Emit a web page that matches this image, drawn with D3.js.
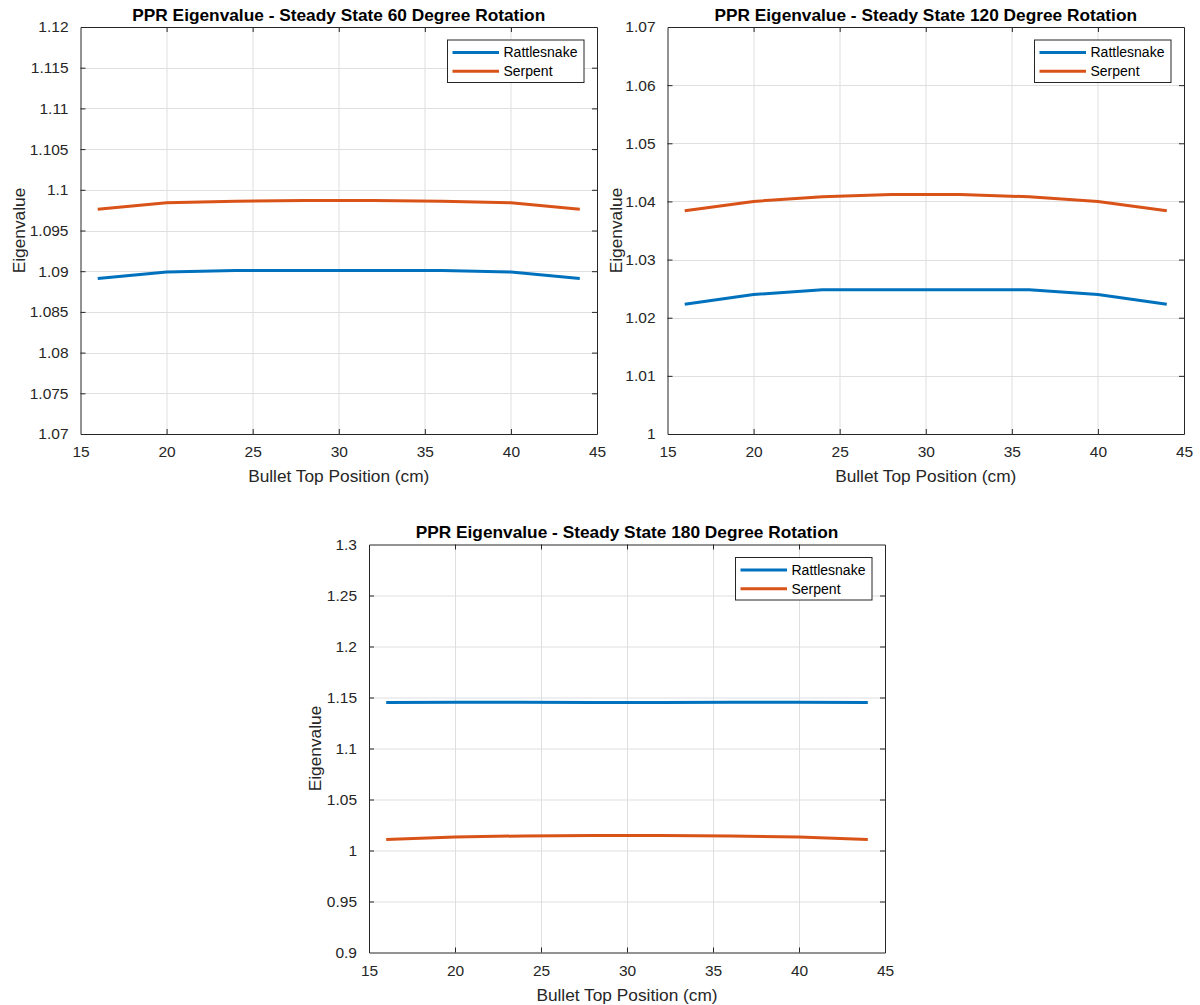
<!DOCTYPE html>
<html>
<head>
<meta charset="utf-8">
<script src="https://cdn.jsdelivr.net/npm/d3@7"></script>
<style>
  html, body { margin: 0; padding: 0; background: #fff; }
  svg { display: block; font-family: "Liberation Sans", Arial, Helvetica, sans-serif; }
</style>
</head>
<body>
<svg id="chart" width="1200" height="1005"></svg>
<script>
// Bullet top positions (cm)
const positions = [16, 20, 24, 28, 32, 36, 40, 44];

// Steady-state eigenvalues, 60 degree rotation
const rattlesnake60 = [1.0891, 1.0899, 1.0901, 1.0901, 1.0901, 1.0901, 1.0899, 1.0891];
const serpent60     = [1.0976, 1.0984, 1.0986, 1.0987, 1.0987, 1.0986, 1.0984, 1.0976];

// Steady-state eigenvalues, 120 degree rotation
const rattlesnake120 = [1.0223, 1.0240, 1.0248, 1.0248, 1.0248, 1.0248, 1.0240, 1.0223];
const serpent120     = [1.0384, 1.0400, 1.0408, 1.0412, 1.0412, 1.0408, 1.0400, 1.0384];

// Steady-state eigenvalues, 180 degree rotation
const rattlesnake180 = [1.1451, 1.1453, 1.1453, 1.1452, 1.1452, 1.1453, 1.1453, 1.1451];
const serpent180     = [1.0108, 1.0133, 1.0143, 1.0148, 1.0148, 1.0143, 1.0133, 1.0108];

const seriesNames = ["Rattlesnake", "Serpent"];
const seriesColors = ["#0072BD", "#D95319"];

const xTicks = [15, 20, 25, 30, 35, 40, 45];
const yTicks60  = [1.07, 1.075, 1.08, 1.085, 1.09, 1.095, 1.1, 1.105, 1.11, 1.115, 1.12];
const yTicks120 = [1, 1.01, 1.02, 1.03, 1.04, 1.05, 1.06, 1.07];
const yTicks180 = [0.9, 0.95, 1, 1.05, 1.1, 1.15, 1.2, 1.25, 1.3];

const titles = [
  "PPR Eigenvalue - Steady State 60 Degree Rotation",
  "PPR Eigenvalue - Steady State 120 Degree Rotation",
  "PPR Eigenvalue - Steady State 180 Degree Rotation"
];

const panels = [
  { title: titles[0], box: [80.5, 27, 516.5, 407], yTicks: yTicks60, yLabelGap: 56,
    series: [rattlesnake60, serpent60] },
  { title: titles[1], box: [667.5, 27, 516.5, 407], yTicks: yTicks120, yLabelGap: 46,
    series: [rattlesnake120, serpent120] },
  { title: titles[2], box: [369, 544.5, 516, 408], yTicks: yTicks180, yLabelGap: 48,
    series: [rattlesnake180, serpent180] }
];

const svg = d3.select("#chart");
const axisColor = "#262626";
const fmt = d => String(+d.toFixed(4));

panels.forEach(p => {
  const [left, top, w, h] = p.box;
  const g = svg.append("g").attr("transform", `translate(${left},${top})`);

  const x = d3.scaleLinear().domain([15, 45]).range([0, w]);
  const y = d3.scaleLinear().domain(d3.extent(p.yTicks)).range([h, 0]);

  g.append("rect").attr("width", w).attr("height", h).attr("fill", "#fff");

  // grid
  const grid = g.append("g").attr("stroke", "#dfdfdf").attr("stroke-width", 1);
  grid.selectAll(".gx").data(xTicks.slice(1, -1)).join("line")
    .attr("x1", d => Math.round(x(d)) + 0.5).attr("x2", d => Math.round(x(d)) + 0.5)
    .attr("y1", 0).attr("y2", h);
  grid.selectAll(".gy").data(p.yTicks.slice(1, -1)).join("line")
    .attr("y1", d => Math.round(y(d)) + 0.5).attr("y2", d => Math.round(y(d)) + 0.5)
    .attr("x1", 0).attr("x2", w);

  // box axes with inward ticks on all four sides
  const styleAxis = sel => {
    sel.select(".domain").attr("stroke", axisColor).attr("stroke-width", 1);
    sel.selectAll(".tick line").attr("stroke", axisColor);
    sel.selectAll(".tick text").attr("fill", axisColor)
      .style("font-size", "15.5px").style("font-family", "'Liberation Sans', Arial, sans-serif");
  };

  g.append("g").attr("transform", `translate(0,${h})`)
    .call(d3.axisBottom(x).tickValues(xTicks).tickSize(-5).tickPadding(12).tickSizeOuter(0).tickFormat(d3.format("d")))
    .call(styleAxis);
  g.append("g")
    .call(d3.axisTop(x).tickValues(xTicks).tickSize(-5).tickSizeOuter(0).tickFormat(""))
    .call(styleAxis);
  g.append("g")
    .call(d3.axisLeft(y).tickValues(p.yTicks).tickSize(-5).tickPadding(12).tickSizeOuter(0).tickFormat(fmt))
    .call(styleAxis);
  g.append("g").attr("transform", `translate(${w},0)`)
    .call(d3.axisRight(y).tickValues(p.yTicks).tickSize(-5).tickSizeOuter(0).tickFormat(""))
    .call(styleAxis);
  // no tick marks at the box corners
  g.selectAll(".tick line").filter(function(d) {
    return d === 15 || d === 45 || d === p.yTicks[0] || d === p.yTicks[p.yTicks.length - 1];
  }).attr("stroke-opacity", 0);

  // series lines
  const line = d3.line().x((d, i) => x(positions[i])).y(d => y(d));
  p.series.forEach((vals, si) => {
    g.append("path").datum(vals)
      .attr("fill", "none").attr("stroke", seriesColors[si])
      .attr("stroke-width", 3).attr("stroke-linejoin", "round")
      .attr("d", line);
  });

  // title
  svg.append("text")
    .attr("x", left + w / 2).attr("y", top - 6.5)
    .attr("text-anchor", "middle").attr("font-weight", "bold")
    .attr("font-size", "17.3px").attr("fill", "#000")
    .text(p.title);

  // x label
  svg.append("text")
    .attr("x", left + w / 2).attr("y", top + h + 48)
    .attr("text-anchor", "middle").attr("font-size", "17.3px").attr("fill", axisColor)
    .text("Bullet Top Position (cm)");

  // y label
  svg.append("text")
    .attr("transform", `translate(${left - p.yLabelGap},${top + h / 2}) rotate(-90)`)
    .attr("text-anchor", "middle").attr("font-size", "17.3px").attr("fill", axisColor)
    .text("Eigenvalue");

  // legend
  const lw = 136.5, lh = 42.5;
  const lg = g.append("g").attr("transform", `translate(${w - 13 - lw},13)`);
  lg.append("rect").attr("width", lw).attr("height", lh)
    .attr("fill", "#fff").attr("stroke", axisColor).attr("stroke-width", 1);
  seriesNames.forEach((name, i) => {
    const cy = 12.5 + i * 18.7;
    lg.append("line").attr("x1", 5).attr("x2", 51.5).attr("y1", cy).attr("y2", cy)
      .attr("stroke", seriesColors[i]).attr("stroke-width", 3);
    lg.append("text").attr("x", 56).attr("y", cy).attr("dy", "0.35em")
      .attr("font-size", "14px").attr("fill", "#000").text(name);
  });
});
</script>
</body>
</html>
